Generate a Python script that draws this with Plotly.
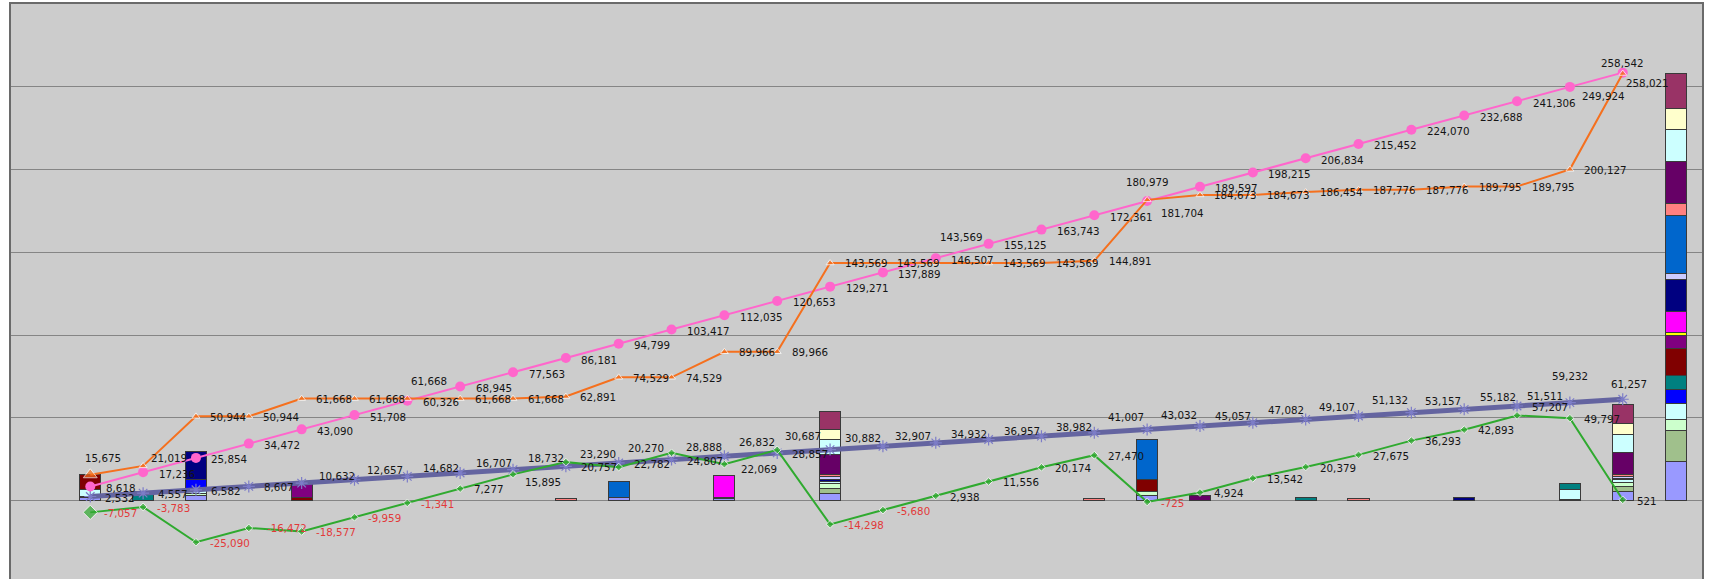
import plotly.graph_objects as go

# ---------------- data ----------------
line_cats = list(range(1, 31))      # categories carrying line values
bar_cats = list(range(1, 32))       # categories carrying stacked bars (31 = total)

target_cum = [8618, 17236, 25854, 34472, 43090, 51708, 60326, 68945, 77563, 86181,
              94799, 103417, 112035, 120653, 129271, 137889, 146507, 155125, 163743, 172361,
              180979, 189597, 198215, 206834, 215452, 224070, 232688, 241306, 249924, 258542]
actual_cum = [15675, 21019, 50944, 50944, 61668, 61668, 61668, 61668, 61668, 62891,
              74529, 74529, 89966, 89966, 143569, 143569, 143569, 143569, 143569, 144891,
              181704, 184673, 184673, 186454, 187776, 187776, 189795, 189795, 200127, 258021]
trend_line = [2532, 4557, 6582, 8607, 10632, 12657, 14682, 16707, 18732, 20757,
              22782, 24807, 26832, 28857, 30882, 32907, 34932, 36957, 38982, 41007,
              43032, 45057, 47082, 49107, 51132, 53157, 55182, 57207, 59232, 61257]
difference = [-7057, -3783, -25090, -16472, -18577, -9959, -1341, 7277, 15895, 23290,
              20270, 28888, 22069, 30687, -14298, -5680, 2938, 11556, 20174, 27470,
              -725, 4924, 13542, 20379, 27675, 36293, 42893, 51511, 49797, 521]

# stacked bar segments, {category: value}, bottom -> top
seg_periwinkle = {1: 1700, 3: 3400, 11: 1900, 13: 1300, 15: 4600, 21: 3000, 29: 1000, 30: 5400, 31: 23900}
seg_sage = {15: 3000, 30: 3400, 31: 18500}
seg_lightgreen = {1: 600, 3: 800, 15: 2800, 21: 2800, 30: 2200, 31: 6400}
seg_cyan_low = {1: 4200, 3: 2200, 15: 1000, 29: 5532, 30: 1600, 31: 10000}
seg_blue = {3: 6525, 31: 8300}
seg_teal = {2: 5344, 24: 1781, 29: 3800, 31: 8500}
seg_maroon = {1: 9175, 5: 1800, 21: 7300, 31: 16100}
seg_purple = {5: 8424, 13: 700, 31: 8000}
seg_yellow = {5: 500, 31: 1800}
seg_magenta = {13: 13437, 31: 12500}
seg_navy = {3: 17000, 15: 1400, 27: 2019, 30: 800, 31: 19300}
seg_lavender = {15: 1600, 30: 1200, 31: 4000}
seg_ocean = {11: 9738, 21: 23713, 31: 35200}
seg_salmon = {10: 1223, 15: 1600, 20: 1322, 25: 1322, 30: 1200, 31: 6800}
seg_darkplum = {15: 12100, 22: 2969, 30: 13500, 31: 25400}
seg_cyan_high = {15: 8700, 30: 10600, 31: 19500}
seg_cream = {15: 6000, 30: 7000, 31: 12700}
seg_plum = {15: 10803, 30: 10994, 31: 21100}

# ---------------- styles ----------------
segments = [
    (seg_periwinkle, '#9999FF'), (seg_sage, '#A0C08C'), (seg_lightgreen, '#CCFFCC'),
    (seg_cyan_low, '#CCFFFF'), (seg_blue, '#0000FF'), (seg_teal, '#008080'),
    (seg_maroon, '#800000'), (seg_purple, '#800080'), (seg_yellow, '#FFFF00'),
    (seg_magenta, '#FF00FF'), (seg_navy, '#000080'), (seg_lavender, '#CCCCFF'),
    (seg_ocean, '#0066CC'), (seg_salmon, '#FF8080'), (seg_darkplum, '#660066'),
    (seg_cyan_high, '#CCFFFF'), (seg_cream, '#FFFFCC'), (seg_plum, '#993366'),
]

PINK = '#FF66CC'
ORANGE = '#F5701E'
SLATE = 'rgb(100,100,160)'
GREEN = '#2FAA2F'
FONT = 'DejaVu Sans'
FSIZE = 10.3

fig = go.Figure()

for d, col in segments:
    fig.add_trace(go.Bar(
        x=bar_cats, y=[d.get(c) for c in bar_cats], width=0.4,
        marker=dict(color=col, line=dict(color='#3a3a3a', width=1)),
        hoverinfo='skip'))

fig.add_trace(go.Scatter(
    x=line_cats, y=trend_line, mode='lines+markers',
    line=dict(color=SLATE, width=5),
    marker=dict(symbol='asterisk-open', size=10, color='rgb(125,125,200)',
                line=dict(color='rgb(125,125,200)', width=1.2))))

fig.add_trace(go.Scatter(
    x=line_cats, y=difference, mode='lines+markers',
    line=dict(color=GREEN, width=2),
    marker=dict(symbol='diamond', size=[11] + [6] * 29, color=GREEN)))

fig.add_trace(go.Scatter(
    x=line_cats, y=target_cum, mode='lines+markers',
    line=dict(color=PINK, width=2),
    marker=dict(symbol='circle', size=10, color=PINK)))

fig.add_trace(go.Scatter(
    x=line_cats, y=actual_cum, mode='lines+markers',
    line=dict(color=ORANGE, width=2),
    marker=dict(symbol='triangle-up', size=[12] + [7] * 29, color=ORANGE)))


def add_labels(values, default, overrides):
    for c, v in zip(line_cats, values):
        anchor, dx, dy = overrides.get(c, ('left',) + default)
        fig.add_annotation(
            x=c, y=v, text=f"{v:,}", showarrow=False,
            xanchor=anchor, yanchor='middle',
            xshift=(dx - 2) if anchor == 'left' else dx, yshift=-dy,
            font=dict(family=FONT, size=FSIZE, color='#E23A3A' if v < 0 else '#141414'))


add_labels(trend_line, (15, 1), {
    5: ('left', 17, -7), 6: ('left', 13, -10), 7: ('left', 16, -8), 8: ('left', 16, -10),
    9: ('left', 15, -12), 13: ('left', 15, -14), 15: ('left', 15, -12), 16: ('left', 12, -10),
    17: ('left', 15, -9), 18: ('left', 15, -9), 19: ('left', 15, -9.5), 20: ('left', 14, -16),
    21: ('left', 14, -14), 22: ('left', 15, -10), 23: ('left', 15, -13), 24: ('left', 13.5, -12),
    25: ('left', 13.5, -16), 26: ('left', 13.5, -12), 27: ('left', 15.5, -12),
    29: ('center', 0, -27), 30: ('center', 6, -15)})
add_labels(difference, (14, 0.7), {
    4: ('left', 18, 0), 9: ('left', 12, 8), 10: ('left', 14, -8), 11: ('left', 9, -19),
    12: ('left', 14, -6), 13: ('left', 17, 5), 14: ('left', 8, -14), 28: ('left', 10, -19)})
add_labels(target_cum, (15.5, 1.5), {
    21: ('center', 0, -19), 29: ('left', 12, 9), 30: ('center', 0, -10)})
add_labels(actual_cum, (14.5, 0.5), {
    1: ('center', 13, -17), 2: ('left', 8, -8), 7: ('left', 4, -17.6),
    17: ('left', 4, -25.6), 21: ('left', 14, 13), 30: ('left', 3.5, 9)})

fig.update_layout(
    width=1712, height=579,
    margin=dict(l=11, r=10, t=4, b=0),
    paper_bgcolor='white', plot_bgcolor='#CCCCCC',
    barmode='stack', showlegend=False,
    xaxis=dict(range=[-0.5, 31.5], showticklabels=False, showgrid=False, zeroline=False,
               showline=True, mirror=True, linecolor='#6a6a6a', linewidth=2, ticks=''),
    yaxis=dict(range=[-47300, 300000], dtick=50000, showticklabels=False,
               showgrid=True, gridcolor='#858585', gridwidth=1,
               zeroline=True, zerolinecolor='#858585', zerolinewidth=1,
               showline=True, mirror=True, linecolor='#6a6a6a', linewidth=2, ticks=''),
)

fig.write_html("out.html")
